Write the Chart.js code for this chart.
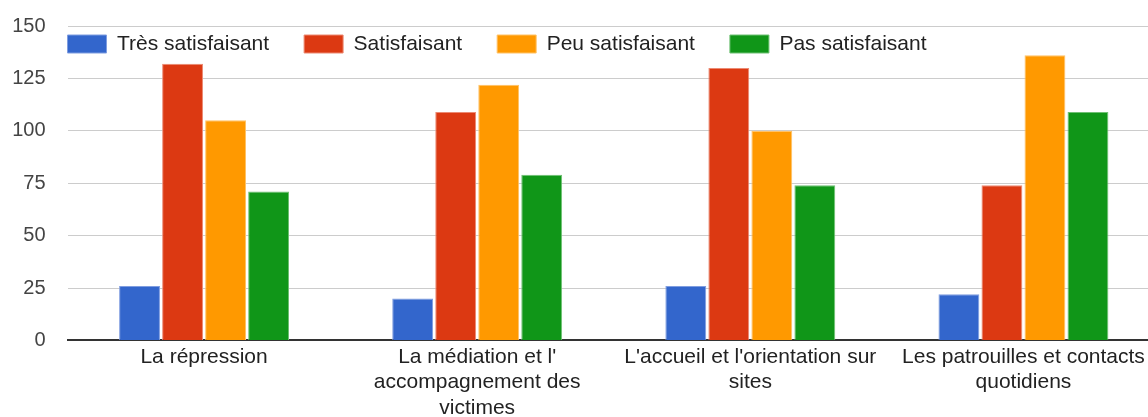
<!DOCTYPE html>
<html>
<head>
<meta charset="utf-8">
<script src="https://cdn.jsdelivr.net/npm/chart.js@4"></script>
<style>
  html, body { margin: 0; padding: 0; background: #fff; overflow: hidden; }
  #wrap { width: 1160px; height: 425px; position: relative; }
</style>
</head>
<body>
<div id="wrap"><canvas id="satChart"></canvas></div>
<script>
// Données
const categories = [
    'La répression',
    ["La médiation et l'", 'accompagnement des', 'victimes'],
    ["L'accueil et l'orientation sur", 'sites'],
    ['Les patrouilles et contacts', 'quotidiens']
];
const tresSatisfaisant = [26, 20, 26, 22];
const satisfaisant = [132, 109, 130, 74];
const peuSatisfaisant = [105, 122, 100, 136];
const pasSatisfaisant = [71, 79, 74, 109];
const yTicks = [0, 25, 50, 75, 100, 125, 150];

const police = "'Liberation Sans', Arial, sans-serif";

// La légende est dessinée par-dessus la zone du graphique (comme Google Charts)
const legendeDansZone = {
    id: 'legendeDansZone',
    beforeInit(chart) {
        const fit = chart.legend.fit;
        chart.legend.fit = function () {
            fit.bind(chart.legend)();
            this.height = 0;
        };
    },
    afterLayout(chart) {
        const lg = chart.legend;
        const pad = lg.options.labels.padding;
        lg.left = chart.chartArea.left - pad;
        lg.top = 33.5 - pad;
        lg.bottom = lg.top + 90;
        lg.height = 90;
    }
};

const ctx = document.getElementById('satChart').getContext('2d');
const myChart = new Chart(ctx, {
    type: 'bar',
    data: {
        labels: categories,
        datasets: [
            { label: 'Très satisfaisant', data: tresSatisfaisant, backgroundColor: '#3366cc', borderColor: '#7f9de0' },
            { label: 'Satisfaisant', data: satisfaisant, backgroundColor: '#dc3912', borderColor: '#ec8a73' },
            { label: 'Peu satisfaisant', data: peuSatisfaisant, backgroundColor: '#ff9900', borderColor: '#ffc266' },
            { label: 'Pas satisfaisant', data: pasSatisfaisant, backgroundColor: '#109618', borderColor: '#6fc074' }
        ].map(d => Object.assign(d, { borderWidth: 1, categoryPercentage: 0.63, barPercentage: 0.95 }))
    },
    options: {
        responsive: true,
        maintainAspectRatio: false,
        animation: false,
        layout: { padding: { top: 26, left: 12.5, right: 0, bottom: 0 } },
        plugins: {
            legend: {
                position: 'top',
                align: 'start',
                labels: {
                    boxWidth: 39,
                    boxHeight: 18,
                    padding: 35,
                    color: '#222',
                    font: { family: police, size: 21 }
                }
            },
            tooltip: { enabled: false }
        },
        scales: {
            y: {
                min: 0,
                max: 150,
                afterBuildTicks: (axis) => { axis.ticks = yTicks.map(v => ({ value: v })); },
                afterFit: (scale) => { scale.width = 55; scale.paddingTop = 0; scale.paddingBottom = 0; },
                grid: { color: '#cccccc', lineWidth: 1, drawTicks: false },
                border: { display: false },
                ticks: {
                    padding: 22,
                    color: '#444',
                    font: { family: police, size: 20 }
                }
            },
            x: {
                afterFit: (scale) => { scale.paddingLeft = 0; scale.paddingRight = 0; },
                grid: { display: false, drawTicks: false },
                border: { display: true, color: '#333', width: 2 },
                ticks: {
                    padding: 4.5,
                    color: '#222',
                    maxRotation: 0,
                    autoSkip: false,
                    font: { family: police, size: 21, lineHeight: 1.2 }
                }
            }
        }
    },
    plugins: [legendeDansZone]
});
</script>
</body>
</html>
